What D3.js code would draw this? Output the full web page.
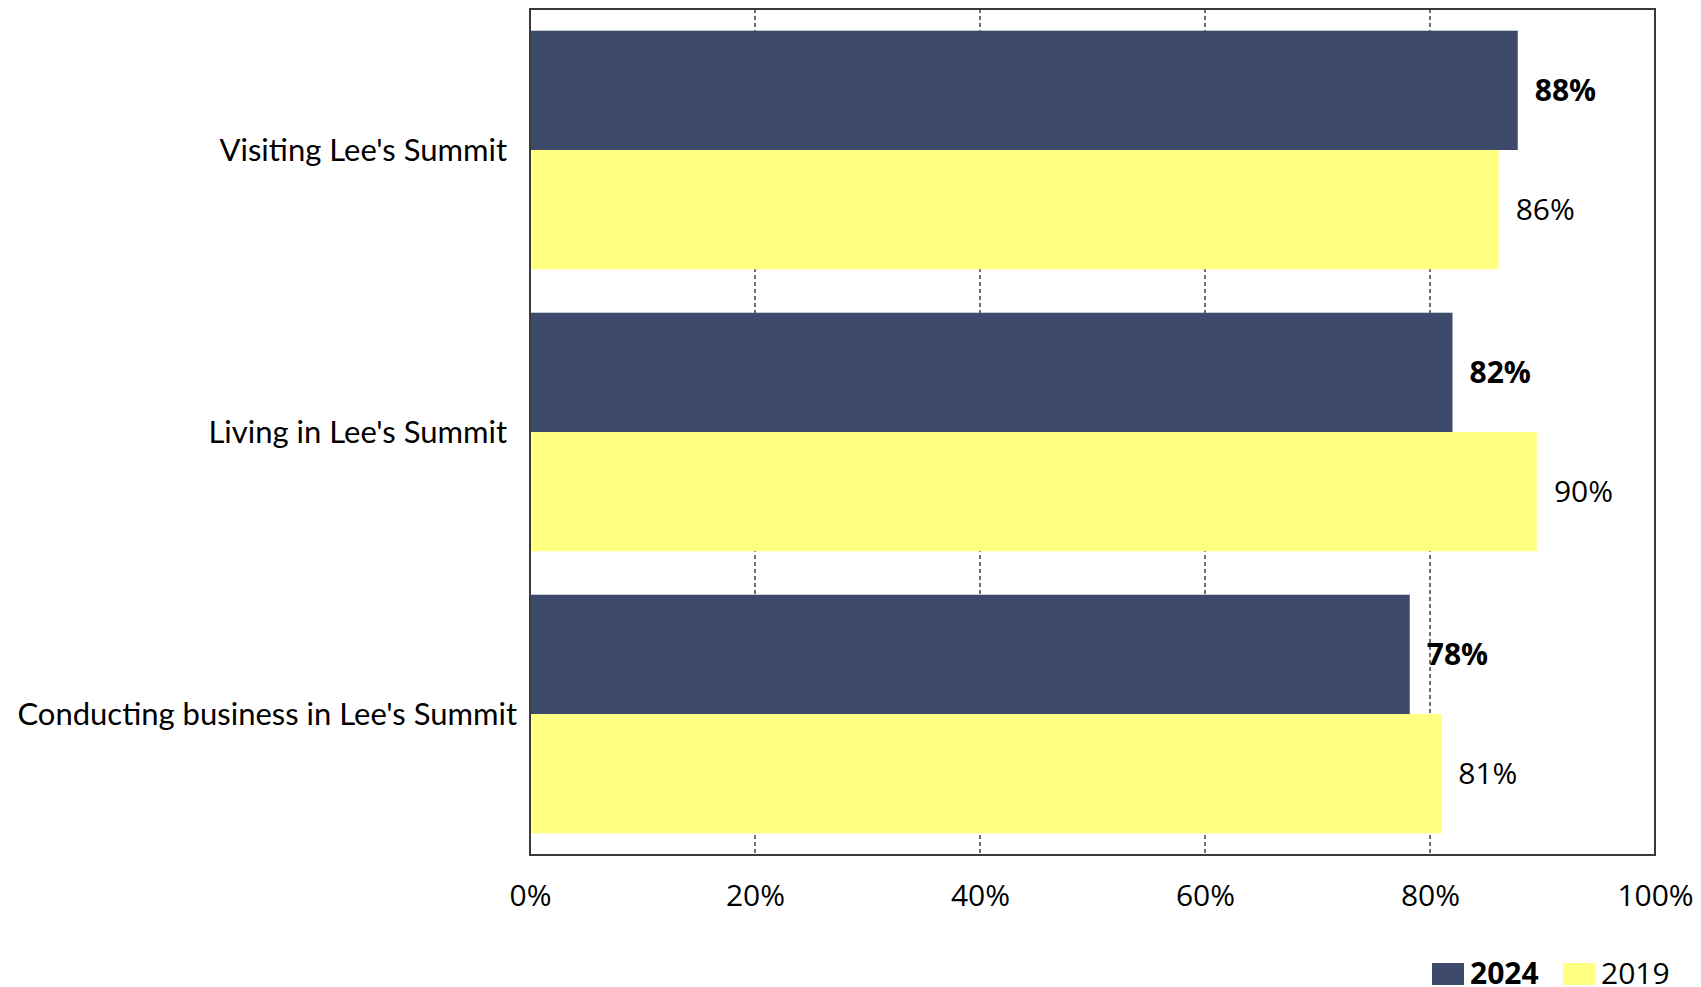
<!DOCTYPE html>
<html>
<head>
<meta charset="utf-8">
<script src="https://cdn.jsdelivr.net/npm/d3@7"></script>
<style>
  html, body { margin: 0; padding: 0; background: #fff; }
  svg { display: block; }
</style>
</head>
<body>
<div id="chart"></div>
<script>
// ── data ──────────────────────────────────────────────────────
const categories = ["Visiting Lee's Summit", "Living in Lee's Summit", "Conducting business in Lee's Summit"];
const seriesNames = ["2024", "2019"];
const values2024 = [87.8, 82.0, 78.2];
const values2019 = [86.1, 89.5, 81.0];
const xTicks = [0, 20, 40, 60, 80, 100];

const W = 1701, H = 987;
const margin = { top: 9, right: 46, bottom: 132, left: 530 };
const FONT = "'Open Sans', sans-serif";
const LABEL_FONT = "Lato, 'Open Sans', sans-serif";
const colors = { "2024": "#3d4a6b", "2019": "#ffff80" };

const rows = categories.map((c, i) => ({
    cat: c,
    vals: [
        { key: "2024", v: values2024[i] },
        { key: "2019", v: values2019[i] },
    ],
}));

const svg = d3.select("#chart").append("svg")
    .attr("width", W)
    .attr("height", H);

const innerW = W - margin.left - margin.right;
const innerH = H - margin.top - margin.bottom;

const g = svg.append("g")
    .attr("transform", `translate(${margin.left},${margin.top})`);

const x = d3.scaleLinear().domain([0, 100]).range([0, innerW]);
const y0 = d3.scaleBand().domain(categories).range([0, innerH])
    .paddingInner(0.154).paddingOuter(0.077);
const y1 = d3.scaleBand().domain(seriesNames).range([0, y0.bandwidth()]);

// dashed gridlines (behind bars)
g.append("g").selectAll("line")
    .data(xTicks.filter(t => t > 0 && t < 100))
    .join("line")
    .attr("x1", d => x(d)).attr("x2", d => x(d))
    .attr("y1", 0).attr("y2", innerH)
    .attr("stroke", "#222")
    .attr("stroke-width", 1.3)
    .attr("stroke-dasharray", "4,3");

// bars
const groups = g.append("g").selectAll("g")
    .data(rows)
    .join("g")
    .attr("transform", d => `translate(0,${y0(d.cat)})`);

groups.selectAll("rect")
    .data(d => d.vals)
    .join("rect")
    .attr("x", 0)
    .attr("y", d => y1(d.key))
    .attr("width", d => x(d.v))
    .attr("height", y1.bandwidth())
    .attr("fill", d => colors[d.key]);

// value labels
groups.selectAll("text.val")
    .data(d => d.vals)
    .join("text")
    .attr("class", "val")
    .attr("x", d => x(d.v) + 17)
    .attr("y", d => y1(d.key) + y1.bandwidth() / 2)
    .attr("dy", "0.35em")
    .attr("font-family", FONT)
    .attr("font-size", "30px")
    .attr("font-weight", d => d.key === "2024" ? 700 : 400)
    .attr("fill", "#000")
    .text(d => Math.round(d.v) + "%");

// plot border
g.append("rect")
    .attr("x", 0).attr("y", 0)
    .attr("width", innerW).attr("height", innerH)
    .attr("fill", "none")
    .attr("stroke", "#3a3a3a")
    .attr("stroke-width", 2);

// category labels
g.append("g").selectAll("text")
    .data(categories)
    .join("text")
    .attr("x", (d, i) => i === categories.length - 1 ? -13 : -23)
    .attr("y", d => y0(d) + y0.bandwidth() / 2)
    .attr("dy", "0.35em")
    .attr("text-anchor", "end")
    .attr("font-family", LABEL_FONT)
    .attr("font-size", "31px")
    .attr("fill", "#000")
    .text(d => d);

// x axis labels
const xAxis = g.append("g")
    .attr("transform", `translate(0,${innerH})`)
    .call(d3.axisBottom(x).tickValues(xTicks).tickSize(0).tickPadding(30)
        .tickFormat(d => d + "%"));
xAxis.select(".domain").remove();
xAxis.selectAll("text")
    .attr("font-family", FONT)
    .attr("font-size", "30px")
    .attr("fill", "#000");

// legend
const legend = svg.append("g")
    .attr("transform", `translate(1432, 963)`);
const legendItems = legend.selectAll("g")
    .data(seriesNames)
    .join("g")
    .attr("transform", (d, i) => `translate(${i * 131},0)`);
legendItems.append("rect")
    .attr("width", 32).attr("height", 22)
    .attr("fill", d => colors[d]);
legendItems.append("text")
    .attr("x", 38)
    .attr("y", 10)
    .attr("dy", "0.35em")
    .attr("font-family", FONT)
    .attr("font-size", "30px")
    .attr("font-weight", d => d === "2024" ? 700 : 400)
    .attr("fill", "#000")
    .text(d => d);
</script>
</body>
</html>
